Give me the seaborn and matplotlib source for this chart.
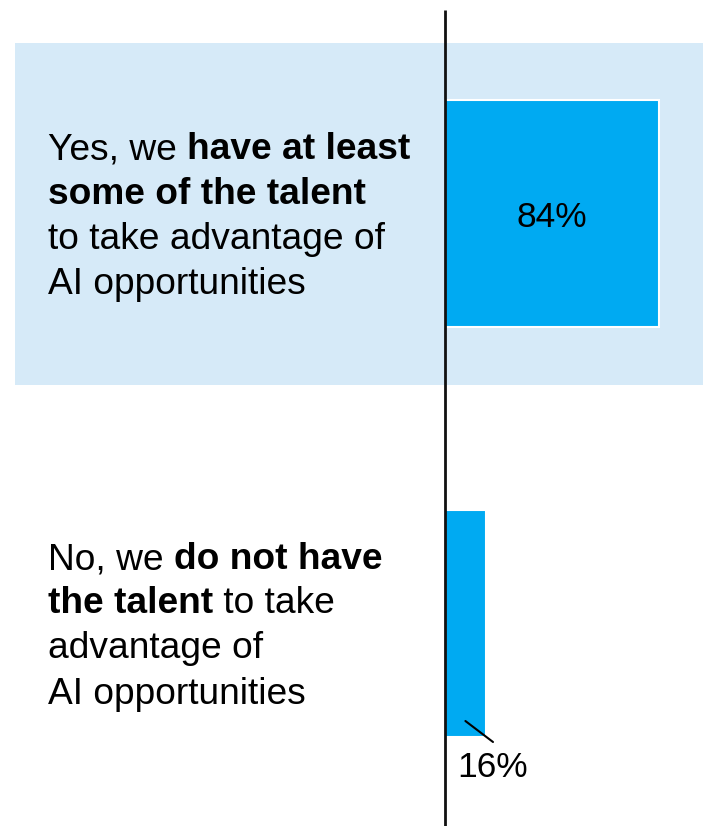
import matplotlib
matplotlib.use("Agg")
import matplotlib.pyplot as plt
from matplotlib.patches import Rectangle
import seaborn as sns
import pandas as pd

# Survey answers and their shares
answers = ["yes", "no"]
shares = [84, 16]
value_labels = ["84%", "16%"]
yes_label = [
    [("Yes, we ", "normal"), ("have at least", "bold")],
    [("some of the talent", "bold")],
    [("to take advantage of", "normal")],
    [("AI opportunities", "normal")],
]
no_label = [
    [("No, we ", "normal"), ("do not have", "bold")],
    [("the talent", "bold"), (" to take", "normal")],
    [("advantage of", "normal")],
    [("AI opportunities", "normal")],
]

sns.set_theme(style="white")
plt.rcParams["font.family"] = ["Liberation Sans", "DejaVu Sans"]

BAR = "#00AAF2"
BAND = "#D6EAF8"
W, H = 703, 826

fig = plt.figure(figsize=(W / 100, H / 100), dpi=100)
ax = fig.add_axes([0, 0, 1, 1])

# pixel layout helpers: value 0 sits on the axis line, 100% spans 255 px
X0, XSCALE = 445, 2.55
Y0, YSCALE = 213.5, 410


def dx(p):
    return (p - X0) / XSCALE


def dy(p):
    return (p - Y0) / YSCALE


df = pd.DataFrame({"answer": answers, "share": shares})
sns.barplot(data=df, x="share", y="answer", orient="h", color=BAR,
            saturation=1, width=0.554, edgecolor="white", linewidth=1.5,
            ax=ax, zorder=3)

ax.set_xlim(dx(0), dx(W))
ax.set_ylim(dy(H), dy(0))
ax.axis("off")

# highlighted band behind the first answer
ax.add_patch(Rectangle((dx(15), dy(43)), dx(703) - dx(15), dy(385) - dy(43),
                       facecolor=BAND, edgecolor="none", zorder=0))

# vertical baseline
ax.plot([0, 0], [dy(10), dy(H)], color="#111111", lw=2, zorder=4,
        solid_capstyle="butt")


def rich_line(x, y, parts, size=26.7):
    prev = None
    for txt, weight in parts:
        if prev is None:
            prev = ax.text(x, y, txt, fontsize=size, fontweight=weight,
                           va="baseline", ha="left", color="black", zorder=5)
        else:
            prev = ax.annotate(txt, xy=(1, 0), xycoords=prev, va="bottom",
                               ha="left", fontsize=size, fontweight=weight,
                               color="black", zorder=5)


for line, base in zip(yes_label, [159, 204, 249, 294]):
    rich_line(dx(48), dy(base), line)
for line, base in zip(no_label, [569, 613, 658, 704]):
    rich_line(dx(48), dy(base), line)

# value labels
ax.text(shares[0] / 2, dy(227), value_labels[0], fontsize=25.5, ha="center",
        va="baseline", color="black", zorder=5)
ax.text(dx(493), dy(777), value_labels[1], fontsize=25.5, ha="center",
        va="baseline", color="black", zorder=5)
ax.plot([shares[1] / 2, dx(493)], [dy(721), dy(742)], color="black", lw=1.5,
        zorder=5)

fig.savefig("out.png", dpi=100, facecolor="white")
